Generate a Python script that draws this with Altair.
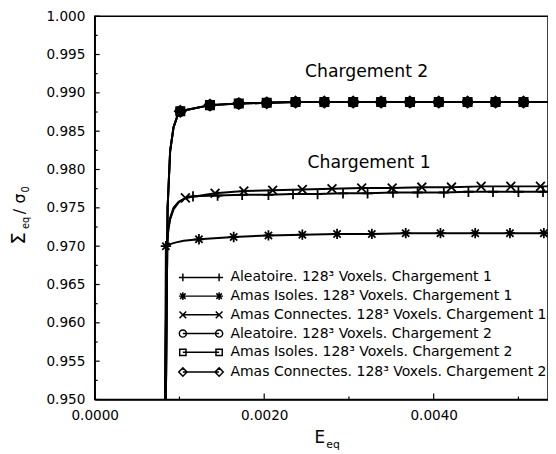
import altair as alt
import pandas as pd

FONT = "DejaVu Sans"

series = [
    "Aleatoire. 128³ Voxels. Chargement 1",
    "Amas Isoles. 128³ Voxels. Chargement 1",
    "Amas Connectes. 128³ Voxels. Chargement 1",
    "Aleatoire. 128³ Voxels. Chargement 2",
    "Amas Isoles. 128³ Voxels. Chargement 2",
    "Amas Connectes. 128³ Voxels. Chargement 2",
]

# ---- Chargement 1 : Aleatoire (+)
ale1_curve_E = [0.00083, 0.00085, 0.00087, 0.00089, 0.00093, 0.00099, 0.00106, 0.00560]
ale1_curve_v = [0.9500, 0.9700, 0.9722, 0.9735, 0.9748, 0.9757, 0.9762, 0.9771]
ale1_mark_E = [0.00116, 0.00145, 0.00174, 0.00205, 0.00234, 0.00263, 0.00293, 0.00322,
               0.00352, 0.00381, 0.00412, 0.00441, 0.00470, 0.00500, 0.00529]
ale1_mark_v = [0.9765, 0.9766, 0.9767, 0.9767, 0.9768, 0.9768, 0.9769, 0.9769,
               0.9770, 0.9770, 0.9770, 0.9771, 0.9771, 0.9771, 0.9771]

# ---- Chargement 1 : Amas Isoles (*)
iso1_curve_E = [0.00083, 0.00090, 0.00096, 0.00105, 0.00570]
iso1_curve_v = [0.9500, 0.9703, 0.9705, 0.9707, 0.9717]
iso1_mark_E = [0.00084, 0.00123, 0.00164, 0.00205, 0.00245, 0.00286, 0.00327, 0.00367,
               0.00408, 0.00449, 0.00490, 0.00530]
iso1_mark_v = [0.9700, 0.9709, 0.9712, 0.9714, 0.9715, 0.9716, 0.9716, 0.9717,
               0.9717, 0.9717, 0.9717, 0.9717]

# ---- Chargement 1 : Amas Connectes (x)
con1_curve_E = [0.00083, 0.00085, 0.00087, 0.00089, 0.00093, 0.00099, 0.00560]
con1_curve_v = [0.9500, 0.9700, 0.9724, 0.9737, 0.9750, 0.9758, 0.9778]
con1_mark_E = [0.00107, 0.00142, 0.00176, 0.00210, 0.00245, 0.00280, 0.00315, 0.00351,
               0.00386, 0.00421, 0.00456, 0.00491, 0.00526]
con1_mark_v = [0.9763, 0.9769, 0.9772, 0.9773, 0.9774, 0.9775, 0.9776, 0.9776,
               0.9777, 0.9777, 0.9778, 0.9778, 0.9778]

# ---- Chargement 2 (three microstructures, superimposed)
ch2_curve_E = [0.00084, 0.00086, 0.00089, 0.00093, 0.00097, 0.00560]
ch2_curve_v = [0.9500, 0.9750, 0.9824, 0.9855, 0.9868, 0.9888]
ch2_mark_E = [0.00101, 0.00136, 0.00170, 0.00203, 0.00237, 0.00271, 0.00305, 0.00338,
              0.00372, 0.00406, 0.00440, 0.00473, 0.00506]
ch2_mark_v = [0.9876, 0.9884, 0.9886, 0.9887, 0.9888, 0.9888, 0.9888, 0.9888,
              0.9888, 0.9888, 0.9888, 0.9888, 0.9888]

y_ticks = [0.950, 0.955, 0.960, 0.965, 0.970, 0.975, 0.980, 0.985, 0.990, 0.995, 1.000]
y_minor = [0.9525, 0.9575, 0.9625, 0.9675, 0.9725, 0.9775, 0.9825, 0.9875, 0.9925, 0.9975]
x_ticks = [0.0000, 0.0020, 0.0040]
x_minor = [0.0010, 0.0030, 0.0050]

curves = [
    (ale1_curve_E, ale1_curve_v, ale1_mark_E, ale1_mark_v),
    (iso1_curve_E, iso1_curve_v, iso1_mark_E, iso1_mark_v),
    (con1_curve_E, con1_curve_v, con1_mark_E, con1_mark_v),
    (ch2_curve_E, ch2_curve_v, ch2_mark_E, ch2_mark_v),
    (ch2_curve_E, ch2_curve_v, ch2_mark_E, ch2_mark_v),
    (ch2_curve_E, ch2_curve_v, ch2_mark_E, ch2_mark_v),
]

line_rows, mark_rows = [], []
for s, (cE, cv, mE, mv) in zip(series, curves):
    pts = sorted(list(zip(cE, cv)) + list(zip(mE, mv)))
    for i, (e, v) in enumerate(pts):
        line_rows.append({"series": s, "E": e, "v": v, "i": i})
    for e, v in zip(mE, mv):
        mark_rows.append({"series": s, "E": e, "v": v})
line_df = pd.DataFrame(line_rows)
mark_df = pd.DataFrame(mark_rows)

# ---- marker shapes (unit space)
def plus(cx=0.0):
    return f"M{cx-1},0L{cx+1},0M{cx},-1L{cx},1"
def star(cx=0.0):
    return (f"M{cx-1},0L{cx+1},0M{cx},-1L{cx},1"
            f"M{cx-0.7},-0.7L{cx+0.7},0.7M{cx-0.7},0.7L{cx+0.7},-0.7")
def cross(cx=0.0):
    return f"M{cx-0.85},-0.85L{cx+0.85},0.85M{cx-0.85},0.85L{cx+0.85},-0.85"
def circ(cx=0.0):
    return f"M{cx+0.9},0A0.9,0.9,0,1,1,{cx-0.9},0A0.9,0.9,0,1,1,{cx+0.9},0Z"
def sq(cx=0.0):
    return f"M{cx-0.8},-0.8L{cx+0.8},-0.8L{cx+0.8},0.8L{cx-0.8},0.8Z"
def diam(cx=0.0):
    return f"M{cx},-1.05L{cx+1.05},0L{cx},1.05L{cx-1.05},0Z"

makers = [plus, star, cross, circ, sq, diam]
mark_paths = [m() for m in makers]
C = 4.6
legend_paths = [f"M{-C},0L{C},0" + m(-C) + m(C) for m in makers]

xscale = alt.Scale(domain=[0, 0.005349], nice=False, zero=False)
yscale = alt.Scale(domain=[0.95, 1.0], nice=False, zero=False)

xaxis = alt.Axis(values=x_ticks, format=".4f", title=None, ticks=False, tickSize=0,
                 grid=False, labelFont=FONT, labelFontSize=13.8, labelColor="black",
                 labelPadding=9, labelFlush=False, labelOverlap=False,
                 domainColor="black", domainWidth=1.5)
yaxis = alt.Axis(values=y_ticks, format=".3f", title=None, ticks=False, tickSize=0,
                 grid=False, labelFont=FONT, labelFontSize=13.8, labelColor="black",
                 labelPadding=10, labelOverlap=False,
                 domainColor="black", domainWidth=1.5)

def X(f="E"):
    return alt.X(f"{f}:Q", scale=xscale, axis=xaxis)
def Y(f="v"):
    return alt.Y(f"{f}:Q", scale=yscale, axis=yaxis)

lines = alt.Chart(line_df).mark_line(color="black", strokeWidth=2, clip=True).encode(
    x=X(), y=Y(), detail="series:N", order="i:Q")

points = alt.Chart(mark_df).mark_point(opacity=1, stroke="black", strokeWidth=1.8,
                                       clip=True).encode(
    x=X(), y=Y(),
    shape=alt.Shape("series:N", scale=alt.Scale(domain=series, range=mark_paths), legend=None),
    fill=alt.Fill("series:N", scale=alt.Scale(domain=series,
                  range=["transparent"] * 3 + ["black"] * 3), legend=None),
    size=alt.Size("series:N", scale=alt.Scale(domain=series,
                  range=[110, 110, 100, 110, 110, 110]), legend=None),
)

legend_layer = alt.Chart(mark_df).transform_filter("false").mark_point(
    opacity=1, filled=False, color="black", strokeWidth=1.5, size=64).encode(
    x=X(), y=Y(),
    shape=alt.Shape("series:N", scale=alt.Scale(domain=series, range=legend_paths),
                    legend=alt.Legend(title=None, orient="none", legendX=100.75, legendY=258,
                                      labelFont=FONT, labelFontSize=14.2, labelColor="black",
                                      labelOffset=22.75, labelLimit=500, rowPadding=4,
                                      padding=0, symbolSize=64, symbolStrokeWidth=1.5,
                                      symbolStrokeColor="black", symbolFillColor="transparent",
                                      symbolOpacity=1)),
)

ytick_major = alt.Chart(pd.DataFrame({"v": y_ticks})).mark_rule(color="black", strokeWidth=1.2).encode(
    y=Y(), x=alt.value(0), x2=alt.value(5))
ytick_minor = alt.Chart(pd.DataFrame({"v": y_minor})).mark_rule(color="black", strokeWidth=1.2).encode(
    y=Y(), x=alt.value(0), x2=alt.value(3))
xtick_major = alt.Chart(pd.DataFrame({"E": x_ticks})).mark_rule(color="black", strokeWidth=1.2).encode(
    x=X(), y=alt.value(389), y2=alt.value(383))
xtick_minor = alt.Chart(pd.DataFrame({"E": x_minor})).mark_rule(color="black", strokeWidth=1.2).encode(
    x=X(), y=alt.value(389), y2=alt.value(386))

one = alt.Data(values=[{"a": 1}])

def label(text, E, v, size=17.5):
    return alt.Chart(one).mark_text(text=text, font=FONT, fontSize=size, color="black",
                                    align="center", baseline="middle").encode(
        x=alt.XDatum(E, scale=xscale, axis=xaxis), y=alt.YDatum(v, scale=yscale, axis=yaxis))

def ptext(text, x, y, size, angle=0):
    return alt.Chart(one).mark_text(text=text, font=FONT, fontSize=size, color="black",
                                    align="left", baseline="alphabetic", angle=angle).encode(
        x=alt.value(x), y=alt.value(y))

annots = [
    label("Chargement 2", 0.003209, 0.99269),
    label("Chargement 1", 0.003238, 0.98090),
]
titles = [
    ptext("E", 223, 433, 17),
    ptext("eq", 235, 438, 11),
    ptext("Σ", -71, 232, 20, 270),
    ptext("eq", -67, 216, 10, 270),
    ptext("/", -71, 201, 16, 270),
    ptext("σ", -71, 190, 16, 270),
    ptext("0", -67, 179, 10, 270),
]

chart = alt.layer(
    lines, points, legend_layer, ytick_major, ytick_minor, xtick_major, xtick_minor,
    *annots, *titles
).resolve_scale(shape="independent", fill="independent", size="independent").properties(
    width=460, height=389,
    autosize=alt.AutoSizeParams(type="none"),
    padding={"left": 88, "top": 5, "right": 0, "bottom": 52},
    background="white",
).configure_view(stroke="black", strokeWidth=1.5)

chart.save("out.html", embed_options={"renderer": "svg", "actions": False})
